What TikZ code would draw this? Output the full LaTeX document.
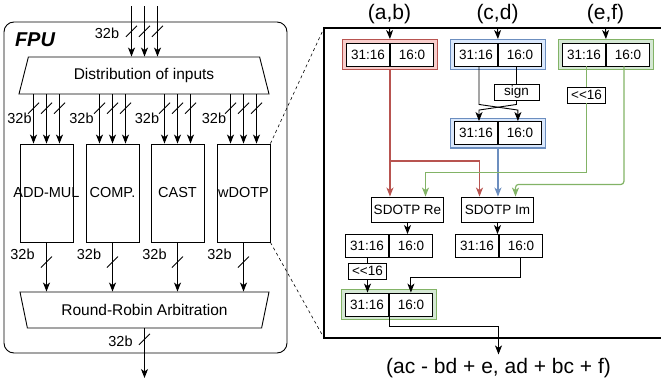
\documentclass[tikz,border=0pt]{standalone}
\usepackage{fontspec}
\setmainfont{Liberation Sans}
\usetikzlibrary{shapes.geometric,arrows.meta,fit,backgrounds}

\definecolor{redline}{HTML}{B85450}
\definecolor{redfill}{HTML}{F8CECC}
\definecolor{blueline}{HTML}{6C8EBF}
\definecolor{bluefill}{HTML}{DAE8FC}
\definecolor{greenline}{HTML}{82B366}
\definecolor{greenfill}{HTML}{D5E8D4}

\newcommand{\regfont}{\fontsize{13.5}{15}\selectfont}
\newcommand{\busfont}{\fontsize{14.5}{16}\selectfont}
\newcommand{\unitfont}{\fontsize{15.5}{17}\selectfont}
\newcommand{\iofont}{\fontsize{21}{24}\selectfont}

\tikzset{
  field/.style={draw,fill=white,minimum width=43pt,minimum height=23pt,inner sep=0pt,font=\regfont},
  opbox/.style={draw,fill=white,inner sep=0pt,font=\regfont},
  regframe/.style={draw=#1line,fill=#1fill,line width=1.1pt,inner xsep=4pt,inner ysep=3pt},
  wire/.style={draw=#1line,line width=1.2pt},
  block/.style={draw,minimum width=53pt,minimum height=98pt,inner sep=0pt},
  trap/.style={draw,trapezium,trapezium stretches body,inner sep=0pt,font=\unitfont},
  bus/.style={font=\busfont,inner sep=0pt},
  pics/slash/.style={code={\draw[-] (-5.5,5.5) -- (5.5,-5.5);}},
}

\begin{document}
\begin{tikzpicture}[x=1pt,y=-1pt,line width=0.9pt,
  >={Stealth[length=9pt,width=7pt,inset=2.5pt]},
  every label/.style={font=\busfont,inner sep=0pt}]
\useasboundingbox (0,0) rectangle (661,386);

% the FPU
\node[draw,rounded corners=10pt,minimum width=283pt,minimum height=331pt] (fpu) at (145.5,187.5) {};
\node[font=\fontsize{20}{22}\selectfont\bfseries\itshape] (fpu-name) at (35,40) {FPU};
\node[trap,trapezium angle=57,minimum width=250pt,minimum height=37pt] (dist) at (144,75.5) {Distribution of inputs};
\node[trap,trapezium angle=123,minimum width=249pt,minimum height=36pt] (rr) at (144.5,310) {Round-Robin Arbitration};
\node[block,label=center:ADD-MUL] (addmul) at (46.5,193) {};
\node[block,label=center:COMP.] (comp) at (112.5,193) {};
\node[block,label=center:CAST] (cast) at (177.5,193) {};
\node[block,label=center:wDOTP] (wdotp) at (243.5,193) {};

\coordinate (in1) at (131.5,6);
\coordinate (in2) at (144.5,6);
\coordinate (in3) at (157.5,6);
\coordinate (fpu-out) at (144.5,378);
\draw[->] (in1) -- pic[pos=.5]{slash} (in1 |- dist.north);
\draw[->] (in2) -- pic[pos=.5]{slash} (in2 |- dist.north);
\draw[->] (in3) -- pic[pos=.5]{slash} (in3 |- dist.north);
\node[bus] (w0) at (107,33) {32b};

% operands into the units
\draw[->] ([xshift=-13pt]addmul.north |- dist.south) -- pic[pos=.28]{slash} ([xshift=-13pt]addmul.north);
\draw[->] (addmul.north |- dist.south) -- pic[pos=.28]{slash} (addmul.north);
\draw[->] ([xshift=13pt]addmul.north |- dist.south) -- pic[pos=.28]{slash} ([xshift=13pt]addmul.north);
\draw[->] ([xshift=-13pt]comp.north |- dist.south) -- pic[pos=.28]{slash} ([xshift=-13pt]comp.north);
\draw[->] (comp.north |- dist.south) -- pic[pos=.28]{slash} (comp.north);
\draw[->] ([xshift=13pt]comp.north |- dist.south) -- pic[pos=.28]{slash} ([xshift=13pt]comp.north);
\draw[->] ([xshift=-13pt]cast.north |- dist.south) -- pic[pos=.28]{slash} ([xshift=-13pt]cast.north);
\draw[->] (cast.north |- dist.south) -- pic[pos=.28]{slash} (cast.north);
\draw[->] ([xshift=13pt]cast.north |- dist.south) -- pic[pos=.28]{slash} ([xshift=13pt]cast.north);
\draw[->] ([xshift=-13pt]wdotp.north |- dist.south) -- pic[pos=.28]{slash} ([xshift=-13pt]wdotp.north);
\draw[->] (wdotp.north |- dist.south) -- pic[pos=.28]{slash} (wdotp.north);
\draw[->] ([xshift=13pt]wdotp.north |- dist.south) -- pic[pos=.28]{slash} ([xshift=13pt]wdotp.north);
\node[bus] (w1) at (19.5,118) {32b};
\node[bus] (w2) at (81.5,118) {32b};
\node[bus] (w3) at (147,118) {32b};
\node[bus] (w4) at (214,118) {32b};

% results to the arbiter
\draw[->] (addmul.south) -- pic[pos=.4]{slash} (addmul.south |- rr.north);
\draw[->] (comp.south) -- pic[pos=.4]{slash} (comp.south |- rr.north);
\draw[->] (cast.south) -- pic[pos=.4]{slash} (cast.south |- rr.north);
\draw[->] (wdotp.south) -- pic[pos=.4]{slash} (wdotp.south |- rr.north);
\draw[->] (rr.south -| fpu-out) -- pic[pos=.22]{slash} (fpu-out);
\node[bus] (w5) at (22.5,254) {32b};
\node[bus] (w6) at (89,254) {32b};
\node[bus] (w7) at (154.5,254) {32b};
\node[bus] (w8) at (219.5,254) {32b};
\node[bus] (w9) at (120.5,341) {32b};

% zoom into wDOTP
\coordinate (pnl-tl) at (324,28);
\coordinate (pnl-bl) at (324,338);
\coordinate (pnl-tr) at (661,28);
\coordinate (pnl-br) at (661,338);
\draw[line width=1.1pt] (pnl-tr) -- (pnl-tl) -- (pnl-bl) -- (pnl-br);
\draw[line width=0.6pt,dash pattern=on 3pt off 3pt] (wdotp.north east) -- (pnl-tl);
\draw[line width=0.6pt,dash pattern=on 3pt off 3pt] (wdotp.south east) -- (pnl-bl);

\node[font=\iofont] (in-ab) at (389.5,14) {(a,b)};
\node[font=\iofont] (in-cd) at (497.5,14) {(c,d)};
\node[font=\iofont] (in-ef) at (605.5,14) {(e,f)};
\node[font=\iofont] (result) at (498.5,368) {(ac - bd + e, ad + bc + f)};

\node[field] (ab-hi) at (368,54.5) {31:16};
\node[field,anchor=west] (ab-lo) at (ab-hi.east) {16:0};
\node[field] (cd-hi) at (476,54.5) {31:16};
\node[field,anchor=west] (cd-lo) at (cd-hi.east) {16:0};
\node[field] (ef-hi) at (584,54.5) {31:16};
\node[field,anchor=west] (ef-lo) at (ef-hi.east) {16:0};
\node[field] (dc-hi) at (476,133) {31:16};
\node[field,anchor=west] (dc-lo) at (dc-hi.east) {16:0};
\node[field] (re-hi) at (367,246) {31:16};
\node[field,anchor=west] (re-lo) at (re-hi.east) {16:0};
\node[field] (im-hi) at (477,246) {31:16};
\node[field,anchor=west] (im-lo) at (im-hi.east) {16:0};
\node[field] (out-hi) at (367,304.5) {31:16};
\node[field,anchor=west] (out-lo) at (out-hi.east) {16:0};
\begin{scope}[on background layer]
\node[regframe=red,fit=(ab-hi)(ab-lo)] (reg-ab) {};
\node[regframe=blue,fit=(cd-hi)(cd-lo)] (reg-cd) {};
\node[regframe=green,fit=(ef-hi)(ef-lo)] (reg-ef) {};
\node[regframe=blue,fit=(dc-hi)(dc-lo)] (reg-dc) {};
\node[regframe=green,fit=(out-hi)(out-lo)] (reg-out) {};
\end{scope}

\node[opbox,minimum width=45pt,minimum height=16pt] (sign) at (516.5,92) {sign};
\node[opbox,minimum width=38pt,minimum height=16pt] (shl1) at (586.5,95) {<\kern0pt<16};
\node[opbox,minimum width=38pt,minimum height=16pt] (shl2) at (367.5,271) {<\kern0pt<16};
\node[opbox,minimum width=72pt,minimum height=25pt] (sdre) at (407.5,209.5) {SDOTP Re};
\node[opbox,minimum width=72pt,minimum height=25pt] (sdim) at (497.5,209.5) {SDOTP Im};

\draw[->] (in-ab.south) -- (reg-ab.north);
\draw[->] (in-cd.south) -- (reg-cd.north);
\draw[->] (in-ef.south) -- (reg-ef.north);

% swap and negate
\draw[->] ([xshift=3pt]cd-hi.south) -- ++(0,38) -- ([xshift=-2pt,yshift=11pt]dc-lo.north) -- ([xshift=-2pt]dc-lo.north);
\draw (cd-lo.south -| sign.north) -- (sign.north);
\draw[->] (sign.south) -- ++(0,4) -- ([xshift=3pt,yshift=11pt]dc-hi.north) -- ([xshift=3pt]dc-hi.north);

% operands into the dot products
\draw[wire=red,->] (reg-ab.south) -- (reg-ab.south |- sdre.north);
\draw[wire=red,->] (reg-ab.south) -- ++(0,91) -| ([xshift=-18pt]sdim.north);
\draw[wire=blue,->] (reg-dc.south) -- (reg-dc.south |- sdim.north);
\draw[wire=green] (ef-hi.south -| shl1.north) -- (shl1.north);
\draw[wire=green,->] (shl1.south) -- ++(0,69) -| ([xshift=18pt]sdre.north);
\draw[wire=green,->,rounded corners=3pt] ([xshift=-4pt]ef-lo.south) -- ++(0,118) -| ([xshift=18pt]sdim.north);

% packing the result
\draw[->] (sdre.south) -- (sdre.south |- re-lo.north);
\draw[->] (sdim.south) -- (sdim.south |- im-hi.north);
\draw (re-hi.south -| shl2.north) -- (shl2.north);
\draw[->] (shl2.south) -- (shl2.south |- out-hi.north);
\draw[->] (im-lo.south) -- ++(0,19) -| (out-lo.north);
\draw[->] (out-hi.south east) -- ++(0,10) -| (result.north);
\end{tikzpicture}
\end{document}
